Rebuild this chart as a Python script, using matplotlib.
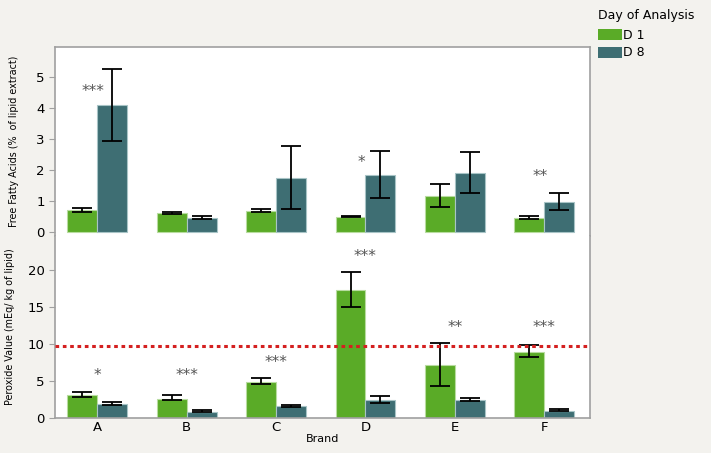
import numpy as np
import matplotlib
matplotlib.use('Agg')
import matplotlib.pyplot as plt
from matplotlib.patches import Patch

# data
brands = ['A', 'B', 'C', 'D', 'E', 'F']

ffa_d1 = [0.71, 0.61, 0.68, 0.49, 1.16, 0.45]
ffa_d1_lo = [0.66, 0.57, 0.65, 0.47, 0.82, 0.43]
ffa_d1_hi = [0.77, 0.66, 0.73, 0.52, 1.56, 0.53]
ffa_d8 = [4.10, 0.45, 1.73, 1.84, 1.89, 0.97]
ffa_d8_lo = [2.94, 0.41, 0.74, 1.11, 1.27, 0.71]
ffa_d8_hi = [5.26, 0.53, 2.77, 2.61, 2.57, 1.27]
ffa_stars = ['***', '', '', '*', '', '**']
ffa_star_y = [4.55, 0, 0, 2.23, 0, 1.78]

pv_d1 = [3.11, 2.61, 4.91, 17.25, 7.12, 8.92]
pv_d1_lo = [2.85, 2.39, 4.55, 14.95, 4.37, 8.24]
pv_d1_hi = [3.50, 3.05, 5.45, 19.73, 10.10, 9.91]
pv_d8 = [1.94, 0.81, 1.62, 2.39, 2.43, 0.99]
pv_d8_lo = [1.76, 0.76, 1.49, 1.98, 2.25, 0.88]
pv_d8_hi = [2.20, 1.04, 1.80, 3.02, 2.75, 1.22]
pv_stars = ['*', '***', '***', '***', '**', '***']
pv_star_y = [5.7, 5.7, 7.5, 21.8, 12.2, 12.2]
pv_limit = 9.7

c1 = '#5aab27'
c8 = '#3e6e73'
bg = '#f3f2ee'
spine_c = '#a0a0a0'

fig = plt.figure(figsize=(7.11, 4.53), dpi=100)
fig.patch.set_facecolor(bg)

ax1 = fig.add_axes([0.0774, 0.479, 0.7525, 0.4172])
ax2 = fig.add_axes([0.0774, 0.0773, 0.7525, 0.4018])

x = np.arange(len(brands))
w = 0.335


def draw(ax, d1, lo1, hi1, d8, lo8, hi8):
    d1, lo1, hi1 = np.array(d1), np.array(lo1), np.array(hi1)
    d8, lo8, hi8 = np.array(d8), np.array(lo8), np.array(hi8)
    ax.bar(x - w / 2, d1, w, color=c1, edgecolor='#b8dca0', linewidth=0.8, zorder=2)
    ax.bar(x + w / 2, d8, w, color=c8, edgecolor='#a8c4c6', linewidth=0.8, zorder=2)
    ax.errorbar(x - w / 2, d1, yerr=[d1 - lo1, hi1 - d1], fmt='none', ecolor='black',
                elinewidth=1.3, capsize=7.5, capthick=1.3, zorder=3)
    ax.errorbar(x + w / 2, d8, yerr=[d8 - lo8, hi8 - d8], fmt='none', ecolor='black',
                elinewidth=1.3, capsize=7.5, capthick=1.3, zorder=3)
    ax.set_xlim(-0.47, 5.51)
    ax.set_facecolor('white')
    for s in ax.spines.values():
        s.set_color(spine_c)
        s.set_linewidth(1.2)
    ax.tick_params(axis='y', colors=spine_c, labelcolor='black', labelsize=9.5, length=4)


# top panel
draw(ax1, ffa_d1, ffa_d1_lo, ffa_d1_hi, ffa_d8, ffa_d8_lo, ffa_d8_hi)
ax1.set_ylim(-0.13, 5.97)
ax1.set_yticks([0, 1, 2, 3, 4, 5])
ax1.set_xticks([])
ax1.spines['bottom'].set_visible(False)
ax1.set_ylabel('Free Fatty Acids (%  of lipid extract)', fontsize=6.9, labelpad=12)
for i, s in enumerate(ffa_stars):
    if s:
        ax1.text(x[i] - 0.05, ffa_star_y[i], s, ha='center', va='center',
                 fontsize=11, color='#555555')

# bottom panel
draw(ax2, pv_d1, pv_d1_lo, pv_d1_hi, pv_d8, pv_d8_lo, pv_d8_hi)
ax2.set_ylim(0, 24.6)
ax2.set_yticks([0, 5, 10, 15, 20])
ax2.spines['top'].set_visible(False)
ax2.set_xticks(x)
ax2.set_xticklabels(brands, fontsize=9.5)
ax2.tick_params(axis='x', length=0, pad=2)
ax2.set_xlabel('Brand', fontsize=8, labelpad=0)
ax2.set_ylabel('Peroxide Value (mEq/ kg of lipid)', fontsize=6.9, labelpad=9)
ax2.axhline(pv_limit, color='#d42020', linestyle=(0, (1.2, 1.2)), linewidth=2.2, zorder=4)
for i, s in enumerate(pv_stars):
    ax2.text(x[i], pv_star_y[i], s, ha='center', va='center',
             fontsize=11, color='#555555')

# legend
fig.text(598 / 711, 1 - 15 / 453, 'Day of Analysis', fontsize=9, ha='left', va='center')
handles = [Patch(facecolor=c1, edgecolor='none', label='D 1'),
           Patch(facecolor=c8, edgecolor='none', label='D 8')]
fig.legend(handles=handles, loc='upper left', bbox_to_anchor=(598 / 711, 1 - 29 / 453),
           frameon=False, fontsize=9, handlelength=1.9, handleheight=0.95,
           handletextpad=0.1, borderaxespad=0, borderpad=0, labelspacing=0.36)

fig.savefig('out.png', dpi=100, facecolor=bg)
